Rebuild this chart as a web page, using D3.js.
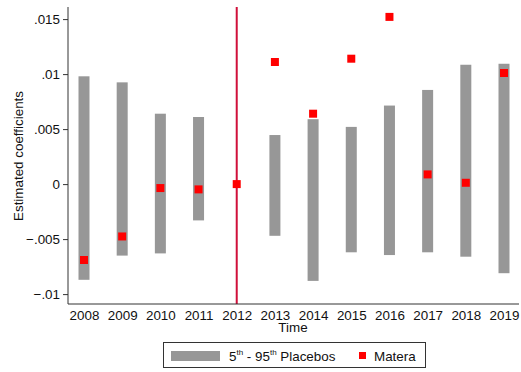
<!DOCTYPE html>
<html lang="en">
<head>
<meta charset="UTF-8">
<script src="https://d3js.org/d3.v7.min.js"></script>
<style>
  body { margin: 0; background: #fff; }
  text { font-family: "Liberation Sans", Arial, sans-serif; fill: #111; }
</style>
</head>
<body>
<div id="container"></div>
<script>
// data
var years = [2008, 2009, 2010, 2011, 2012, 2013, 2014, 2015, 2016, 2017, 2018, 2019];
var placeboLow  = [-0.0087, -0.0065, -0.0063, -0.0033, null, -0.0047, -0.0088, -0.0062, -0.00645, -0.0062, -0.0066, -0.0081];
var placeboHigh = [0.0098, 0.00925, 0.0064, 0.0061, null, 0.00446, 0.0059, 0.0052, 0.00714, 0.00856, 0.01085, 0.01094];
var matera = [-0.0069, -0.00476, -0.00036, -0.00048, 0, 0.0111, 0.0064, 0.0114, 0.0152, 0.00088, 0.00012, 0.0101];
var yTicks = [-0.01, -0.005, 0, 0.005, 0.01, 0.015];
var treatYear = 2012;

var width = 521, height = 372;
var fs = "13.4px";
var svg = d3.select("#container").append("svg")
  .attr("width", width).attr("height", height);

var x = d3.scaleLinear().domain([2008, 2019]).range([84, 504]);
var y = d3.scaleLinear().domain([-0.0109, 0.0161]).range([304, 7]);

function fmt(v) {
  if (v === 0) return "0";
  var s = d3.format("")(+v.toFixed(3));
  return s.replace("0.", ".");
}

// bars
var bars = years.map(function(d, i) { return {year: d, lo: placeboLow[i], hi: placeboHigh[i]}; })
  .filter(function(d) { return d.lo !== null; });
svg.append("g").selectAll("rect").data(bars).enter().append("rect")
  .attr("x", function(d) { return x(d.year) - 5.5; })
  .attr("width", 11)
  .attr("y", function(d) { return y(d.hi); })
  .attr("height", function(d) { return y(d.lo) - y(d.hi); })
  .attr("fill", "#979797");

// treatment line
svg.append("line")
  .attr("x1", x(treatYear)).attr("x2", x(treatYear))
  .attr("y1", 7).attr("y2", 304)
  .attr("stroke", "#d0103a").attr("stroke-width", 2);

// markers
svg.append("g").selectAll("rect").data(matera).enter().append("rect")
  .attr("x", function(d, i) { return x(years[i]) - 4; })
  .attr("y", function(d) { return y(d) - 4; })
  .attr("width", 8).attr("height", 8)
  .attr("fill", "#ff0000");

// y axis
var yAxis = d3.axisLeft(y).tickValues(yTicks).tickSize(5).tickPadding(3).tickFormat(fmt);
var gy = svg.append("g").attr("transform", "translate(68,0)").call(yAxis);
gy.select(".domain").attr("d", "M0,7V304").attr("stroke", "#333");
gy.selectAll(".tick line").attr("stroke", "#333");
gy.selectAll("text").style("font-size", fs).attr("fill", "#111");

// x axis
var xAxis = d3.axisBottom(x).tickValues(years).tickSize(0).tickPadding(6).tickFormat(d3.format("d"));
var gx = svg.append("g").attr("transform", "translate(0,304)").call(xAxis);
gx.select(".domain").attr("d", "M68,0H519").attr("stroke", "#333");
gx.selectAll("text").style("font-size", fs).attr("fill", "#111");

svg.append("text").attr("x", 293).attr("y", 332)
  .attr("text-anchor", "middle").style("font-size", fs).text("Time");

svg.append("text")
  .attr("transform", "translate(23,156) rotate(-90)")
  .attr("text-anchor", "middle").style("font-size", fs)
  .text("Estimated coefficients");

// legend
var lg = svg.append("g");
lg.append("rect").attr("x", 163.5).attr("y", 342.5).attr("width", 262).attr("height", 25)
  .attr("fill", "#fff").attr("stroke", "#333");
lg.append("rect").attr("x", 171).attr("y", 351).attr("width", 49).attr("height", 10).attr("fill", "#979797");
var lt = lg.append("text").attr("x", 229).attr("y", 361).style("font-size", fs);
lt.append("tspan").text("5");
lt.append("tspan").attr("dy", -6).style("font-size", "8px").text("th");
lt.append("tspan").attr("dy", 6).text(" - 95");
lt.append("tspan").attr("dy", -6).style("font-size", "8px").text("th");
lt.append("tspan").attr("dy", 6).text(" Placebos");
lg.append("rect").attr("x", 359).attr("y", 352).attr("width", 7).attr("height", 7).attr("fill", "#ff0000");
lg.append("text").attr("x", 374).attr("y", 361).style("font-size", fs).text("Matera");
</script>
</body>
</html>
